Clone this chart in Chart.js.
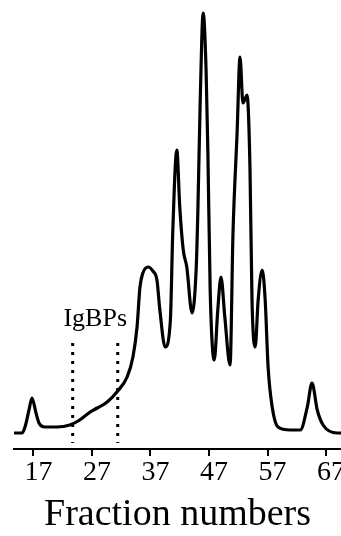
<!DOCTYPE html>
<html>
<head>
<meta charset="utf-8">
<script src="https://cdn.jsdelivr.net/npm/chart.js@4.4.1/dist/chart.umd.min.js"></script>
<style>
  html, body { margin: 0; padding: 0; background: #fff; }
  #wrap { width: 341px; height: 536px; }
</style>
</head>
<body>
<div id="wrap"><canvas id="elution"></canvas></div>
<script>
// elution profile (relative absorbance)
const fractions = [13.67, 15.03, 15.55, 16.23, 16.74, 17.43, 17.94, 18.97, 21.0, 23.2,
  24.9, 26.7, 27.9, 29.6, 31.4, 33.0, 34.0, 34.7, 35.2, 35.7,
  36.6, 37.4, 38.1, 38.6, 39.5, 40.4, 40.8, 41.5, 42.0, 42.6,
  43.2, 44.1, 44.8, 45.1, 45.5, 46.0, 46.5, 46.8, 47.2, 47.9,
  48.5, 49.05, 49.7, 50.6, 51.1, 51.8, 52.3, 52.8, 53.1, 53.5,
  54.0, 54.35, 54.9, 55.4, 56.1, 56.6, 57.1, 57.8, 58.8, 60.85,
  62.6, 63.8, 64.6, 65.5, 66.5, 68.9, 69.56];
const absorbance = [16, 16, 22, 39, 51, 36, 26, 22, 22, 24,
  29, 37, 41, 47, 58, 72, 92, 122, 162, 176,
  182, 178, 169, 139, 102, 129, 216, 299, 242, 199,
  182, 136, 179, 239, 349, 436, 379, 299, 159, 89,
  139, 172, 132, 84, 216, 316, 392, 346, 349, 354,
  282, 149, 102, 149, 179, 149, 82, 42, 22, 19,
  19, 42, 66, 39, 24, 16, 16];

const tickValues = [17, 27, 37, 47, 57, 67];

// pooled IgBP fractions (dotted markers)
const poolBounds = [23.7, 31.4];
const poolMarkerTop = 106;
const poolMarkerBottom = 6;
const poolLabel = 'IgBPs';

const serif = "'Liberation Serif', 'Times New Roman', serif";

const profile = fractions.map((f, i) => ({ x: f, y: absorbance[i] }));
const markers = poolBounds.map(f => ({
  data: [{ x: f, y: poolMarkerTop }, { x: f, y: poolMarkerBottom }],
  borderColor: '#000',
  borderWidth: 3,
  borderDash: [3, 6],
  borderCapStyle: 'butt',
  pointRadius: 0,
  fill: false
}));

const poolLabelPlugin = {
  id: 'poolLabel',
  afterDatasetsDraw(chart) {
    const { ctx, scales } = chart;
    const x = scales.x.getPixelForValue((poolBounds[0] + poolBounds[1]) / 2);
    const y = scales.y.getPixelForValue(130);
    ctx.save();
    ctx.font = '26px ' + serif;
    ctx.fillStyle = '#000';
    ctx.textAlign = 'center';
    ctx.textBaseline = 'middle';
    ctx.fillText(poolLabel, x, y);
    ctx.restore();
  }
};

new Chart(document.getElementById('elution'), {
  type: 'line',
  data: {
    datasets: [{
      data: profile,
      borderColor: '#000',
      borderWidth: 3.2,
      pointRadius: 0,
      cubicInterpolationMode: 'monotone',
      fill: false
    }, ...markers]
  },
  options: {
    responsive: true,
    maintainAspectRatio: false,
    animation: false,
    layout: { padding: { left: 14, top: 0, right: 0, bottom: 0 } },
    plugins: {
      legend: { display: false },
      tooltip: { enabled: false }
    },
    scales: {
      x: {
        type: 'linear',
        min: fractions[0],
        max: fractions[fractions.length - 1],
        afterBuildTicks(scale) {
          scale.ticks = tickValues.map(v => ({ value: v }));
        },
        afterFit(scale) { scale.height = 87; },
        border: { display: true, color: '#000', width: 2 },
        grid: { drawOnChartArea: false, drawTicks: true, tickLength: 7, color: '#000', lineWidth: 2 },
        ticks: {
          color: '#000',
          font: { family: serif, size: 28 },
          padding: 0,
          labelOffset: 5,
          maxRotation: 0,
          autoSkip: false
        },
        title: {
          display: true,
          text: 'Fraction numbers',
          color: '#000',
          font: { family: serif, size: 38, lineHeight: 1.1 },
          padding: 0
        }
      },
      y: {
        display: false,
        min: 0,
        max: 449
      }
    }
  },
  plugins: [poolLabelPlugin]
});
</script>
</body>
</html>
